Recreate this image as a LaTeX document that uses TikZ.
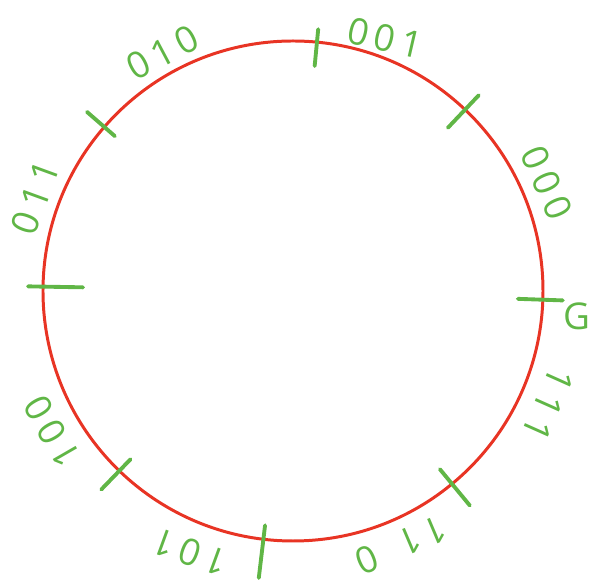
\documentclass[tikz,border=0pt]{standalone}
\usepackage{fontspec}
\usepackage{xcolor}
\usepackage{tikz}
\usetikzlibrary{arrows.meta,positioning}

\newfontfamily\handfont{Open Sans}
\definecolor{inkred}{RGB}{232,52,36}
\definecolor{inkgreen}{RGB}{96,182,70}

\begin{document}
\begin{tikzpicture}[
    ring/.style={
        draw=inkred,
        line width=1.7pt
    },
    cut/.style={
        draw=inkgreen,
        line width=2.2pt,
        line cap=round
    },
    bitlab/.style={
        text=inkgreen,
        inner sep=0pt,
        font=\handfont\fontsize{21}{25}\selectfont
    }
]

% Frame of the page
\useasboundingbox (-5.86,-5.88) rectangle (6.00,5.82);

% The ring
\draw[ring] (0,0) circle (5cm);

% Eight cuts across the ring
\draw[cut] (84.5:4.52) -- (84.5:5.26);
\draw[cut] (46.5:4.50) -- (46.5:5.40);
\draw[cut] (-2:4.50) -- (-2:5.40);
\draw[cut] (-50.5:4.62) -- (-50.5:5.56);
\draw[cut] (-96.8:4.72) -- (-96.8:5.78);
\draw[cut] (-134:4.68) -- (-134:5.52);
\draw[cut] (179:4.20) -- (179:5.30);
\draw[cut] (139:4.72) -- (139:5.46);

% Labels of the sectors
\node[bitlab, rotate=-66] (b000) at (23:5.52) {0\,0\,0};
\node[bitlab, rotate=-13] (b001) at (70:5.38) {0\,0\,1};
\node[bitlab, rotate=28] (b010) at (118.7:5.44) {0\,1\,0};
\node[bitlab, rotate=70] (b011) at (160:5.48) {0\,1\,1};
\node[bitlab, rotate=120] (b100) at (210.3:5.58) {1\,0\,0};
\node[bitlab, rotate=160] (b101) at (248.5:5.62) {1\,0\,1};
\node[bitlab, rotate=203] (b110) at (293:5.52) {1\,1\hspace{0.7em}0};
\node[bitlab, rotate=-114] (b111) at (-24:5.58) {1\,1\,1};
\node[bitlab] (mark) at (-5:5.70) {G};

\end{tikzpicture}
\end{document}
